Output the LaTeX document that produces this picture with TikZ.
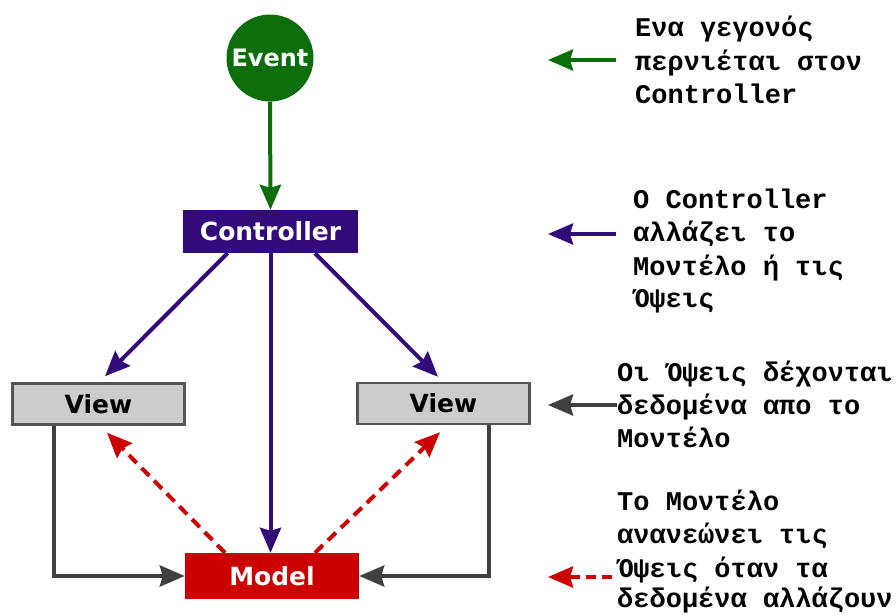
\documentclass[tikz,border=0pt]{standalone}
\usepackage{fontspec}
\usetikzlibrary{arrows.meta,calc}
\newfontfamily\boxfont{DejaVu Sans}
\newfontfamily\notefont{Liberation Mono}
\definecolor{evgreen}{HTML}{0B6E0B}
\definecolor{ctrlpurple}{HTML}{330A7A}
\definecolor{modelred}{HTML}{CC0000}
\definecolor{viewgray}{HTML}{CCCCCC}
\definecolor{edgegray}{HTML}{555555}
\definecolor{linkgray}{HTML}{404040}

\begin{document}
\begin{tikzpicture}[x=1pt,y=-1pt,
  box/.style={rectangle, inner sep=0, font=\boxfont\bfseries\fontsize{25}{29}\selectfont},
  tipend/.style={-{Stealth[length=25pt,width=21pt,inset=3pt]}},
  link/.style={line width=4pt, tipend},
  greenlink/.style={link, draw=evgreen},
  purplelink/.style={link, draw=ctrlpurple},
  graylink/.style={link, draw=linkgray, line join=miter},
  redlink/.style={link, draw=modelred, dash pattern=on 11pt off 7pt, line width=4pt},
  note/.style={anchor=base west, inner sep=0, font=\notefont\bfseries\fontsize{27}{33}\selectfont},
]
\useasboundingbox (0,0) rectangle (896,615);

% main nodes
\node[circle, fill=evgreen, minimum size=87pt, inner sep=0, text=white,
      font=\boxfont\bfseries\fontsize{24}{28}\selectfont] (event) at (270,58) {Event};
\node[box, fill=ctrlpurple, text=white, minimum width=175pt, minimum height=43pt]
  (ctrl) at (270.5,231.5) {Controller};
\node[box, fill=viewgray, draw=edgegray, line width=2.5pt, text=black,
      minimum width=172pt, minimum height=41pt] (viewL) at (98.5,404) {View};
\node[box, fill=viewgray, draw=edgegray, line width=2.5pt, text=black,
      minimum width=172pt, minimum height=41pt] (viewR) at (443.5,403.5) {View};
\node[box, fill=modelred, text=white, minimum width=174pt, minimum height=46pt]
  (model) at (272,576) {Model};

% event to controller
\draw[greenlink] (event.south) -- (ctrl.north);

% controller to views and model
\draw[purplelink] ($(ctrl.south)+(-43,0)$) -- ($(viewL.north)+(6.5,-6)$);
\draw[purplelink] ($(ctrl.south)+(44.5,0)$) -- ($(viewR.north)+(-5.5,-5)$);
\draw[purplelink] (ctrl.south) -- (ctrl.south |- model.north);

% views read from the model
\draw[graylink] ($(viewL.south west)+(43,0)$) |- (model.west);
\draw[graylink] ($(viewR.south east)+(-42,0)$) |- (model.east);

% model updates the views
\draw[redlink] ($(model.north)+(-47,0)$) -- ($(viewL.south)+(8.5,7)$);
\draw[redlink] ($(model.north)+(43,0)$) -- ($(viewR.south)+(-3.5,7)$);

% legend arrows
\coordinate (g1) at (616,60);   \coordinate (g0) at (548,60);
\coordinate (p1) at (616,234);  \coordinate (p0) at (548,234);
\coordinate (k1) at (617,405);  \coordinate (k0) at (548,405);
\coordinate (r1) at (612,577);  \coordinate (r0) at (548,577);
\draw[greenlink] (g1) -- (g0);
\draw[purplelink] (p1) -- (p0);
\draw[graylink] (k1) -- (k0);
\draw[redlink, dash pattern=on 10pt off 6pt] (r1) -- (r0);

% legend texts
\node[note] (t1a) at (635,37)  {Ενα γεγονός};
\node[note] (t1b) at (635,71)  {περνιέται στον};
\node[note] (t1c) at (635,104) {Controller};

\node[note] (t2a) at (633,208) {O Controller};
\node[note] (t2b) at (633,241) {αλλάζει το};
\node[note] (t2c) at (633,275) {Μοντέλο ή τις};
\node[note] (t2d) at (633,307) {Όψεις};

\node[note] (t3a) at (617,381) {Οι Όψεις δέχονται};
\node[note] (t3b) at (617,414) {δεδομένα απο το};
\node[note] (t3c) at (617,447) {Μοντέλο};

\node[note] (t4a) at (617,510) {Το Μοντέλο};
\node[note] (t4b) at (617,543) {ανανεώνει τις};
\node[note] (t4c) at (617,577) {Όψεις όταν τα};
\node[note] (t4d) at (617,607) {δεδομένα αλλάζουν};
\end{tikzpicture}
\end{document}
